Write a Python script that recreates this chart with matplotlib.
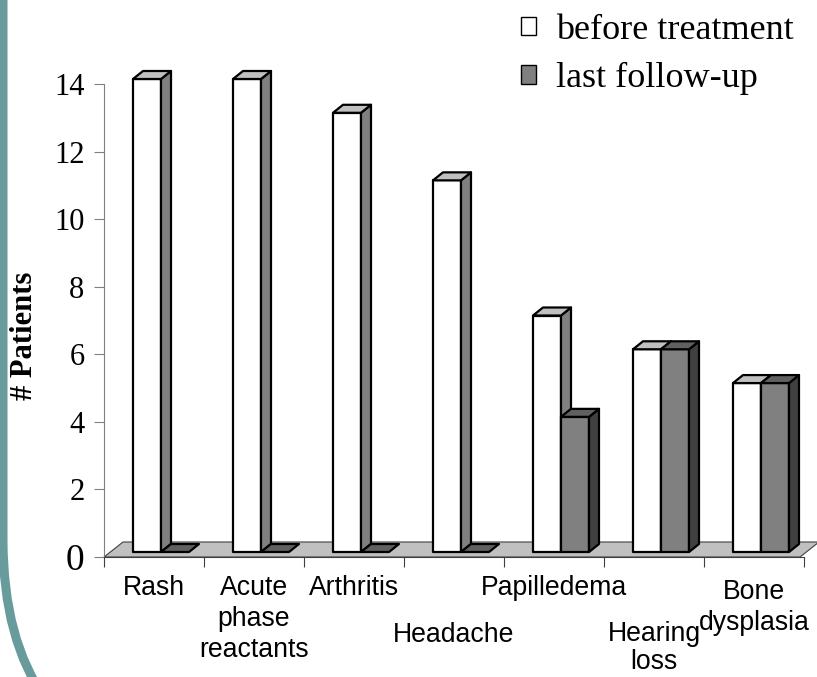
import numpy as np
import matplotlib
matplotlib.use("Agg")
import matplotlib.pyplot as plt
from matplotlib.patches import Polygon, Rectangle, PathPatch
from matplotlib.path import Path
from matplotlib.transforms import offset_copy

# ── data ───────────────────────────────────────────────────────────────────
categories = ["Rash", "Acute\nphase\nreactants", "Arthritis", "Headache",
              "Papilledema", "Hearing\nloss", "Bone\ndysplasia"]
before_treatment = [14, 14, 13, 11, 7, 6, 5]
last_follow_up   = [0, 0, 0, 0, 4, 6, 5]
yticks = [0, 2, 4, 6, 8, 10, 12, 14]
series_names = ["before treatment", "last follow-up"]

# staggered category labels: pixels below the axis line, line spacing
label_drop = [18, 18, 18, 65, 18, 64, 22]
label_spacing = [1.25, 1.25, 1.25, 1.25, 1.25, 1.1, 1.25]

# ── styling ────────────────────────────────────────────────────────────────
W, H, DPI = 817, 677, 100
AX_L, AX_R, AX_T, AX_B = 104, 804, 84, 557      # axes box in pixels
SERIF = "Liberation Serif"
SANS = "Liberation Sans"
TEAL = "#689c9c"

WHITE_FACES = ("#ffffff", "#c0c0c0", "#808080")   # front, top, side
GRAY_FACES  = ("#808080", "#606060", "#404040")

PX = 7.0 / (AX_R - AX_L)          # data units per pixel (x)
PY = 14.0 / (AX_B - AX_T)         # data units per pixel (y)
BW = 28 * PX                      # bar width
OX, OY = 7 * PX, 5 * PY           # front face shift into the floor
DX, DY = 10 * PX, 8 * PY          # bar depth
FX, FY = 19 * PX, 15 * PY         # floor depth


def bar3d(ax, xl, h, faces, z):
    front, top, side = faces
    y0 = OY
    kw = dict(edgecolor="black", lw=1.6, zorder=z, clip_on=False, joinstyle="round")
    if h > 0:
        ax.bar(xl, h, width=BW, bottom=y0, align="edge", color=front, **kw)
        ax.add_patch(Polygon([(xl + BW, y0), (xl + BW + DX, y0 + DY),
                              (xl + BW + DX, y0 + h + DY), (xl + BW, y0 + h)],
                             facecolor=side, **kw))
    ax.add_patch(Polygon([(xl, y0 + h), (xl + BW, y0 + h),
                          (xl + BW + DX, y0 + h + DY), (xl + DX, y0 + h + DY)],
                         facecolor=top if h > 0 else GRAY_FACES[1], **kw))


fig = plt.figure(figsize=(W / DPI, H / DPI), dpi=DPI)
ax = fig.add_axes([AX_L / W, 1 - AX_B / H, (AX_R - AX_L) / W, (AX_B - AX_T) / H])
ax.set_xlim(-0.5, 6.5)
ax.set_ylim(0, 14)
ax.patch.set_visible(False)

# floor
x_lo, x_hi = -0.5, 6.46
ax.add_patch(Polygon([(x_lo, 0), (x_hi, 0), (x_hi + FX, FY), (x_lo + FX, FY)],
                     facecolor="#c0c0c0", edgecolor="#404040", lw=0.8,
                     zorder=1, clip_on=False))

for i in range(len(categories)):
    xl = i - BW + OX
    bar3d(ax, xl, before_treatment[i], WHITE_FACES, 3)
    bar3d(ax, xl + BW, last_follow_up[i], GRAY_FACES, 4)

# axes cosmetics
for s in ("top", "right"):
    ax.spines[s].set_visible(False)
ax.spines["left"].set_color("#808080")
ax.spines["bottom"].set_color("#404040")
ax.spines["left"].set_zorder(2)
ax.set_yticks(yticks)
ax.set_yticklabels([str(v) for v in yticks], fontfamily=SERIF, fontsize=22)
ax.get_yticklabels()[0].set_fontsize(27)
ax.tick_params(axis="y", direction="out", length=7, color="#808080", pad=7)
ax.set_xticks(np.arange(-0.5, 7.0, 1.0))
ax.set_xticklabels([])
ax.tick_params(axis="x", direction="out", length=7, color="#404040")

for i, (lab, drop, ls) in enumerate(zip(categories, label_drop, label_spacing)):
    tr = offset_copy(ax.get_xaxis_transform(), fig=fig, x=0, y=-drop, units="dots")
    ax.text(i, 0, lab, transform=tr, ha="center", va="top", fontfamily=SANS,
            fontsize=19.2, linespacing=ls, multialignment="center")

fig.text(25 / W, 1 - 336 / H, "# Patients", rotation=90, ha="center", va="center",
         fontfamily=SERIF, fontsize=22, fontweight="bold")

# legend
handles = [Rectangle((0, 0), 1, 1, facecolor=WHITE_FACES[0], edgecolor="black", lw=1),
           Rectangle((0, 0), 1, 1, facecolor=GRAY_FACES[0], edgecolor="black", lw=1)]
fig.legend(handles, series_names, loc="upper left",
           bbox_to_anchor=(521 / W, 1 - 14 / H), frameon=False,
           prop={"family": SERIF, "size": 26}, handlelength=0.42, handleheight=0.42,
           handletextpad=0.55, labelspacing=0.42, borderpad=0, borderaxespad=0)

# teal slide border
verts = [(3 / W, 1.02), (3 / W, 1 - 540 / H), (3 / W, 1 - 640 / H), (46 / W, 1 - 700 / H)]
path = Path(verts, [Path.MOVETO, Path.LINETO, Path.CURVE3, Path.CURVE3])
fig.patches.append(PathPatch(path, transform=fig.transFigure, facecolor="none",
                             edgecolor=TEAL, lw=6.5))

fig.savefig("out.png", dpi=DPI)
